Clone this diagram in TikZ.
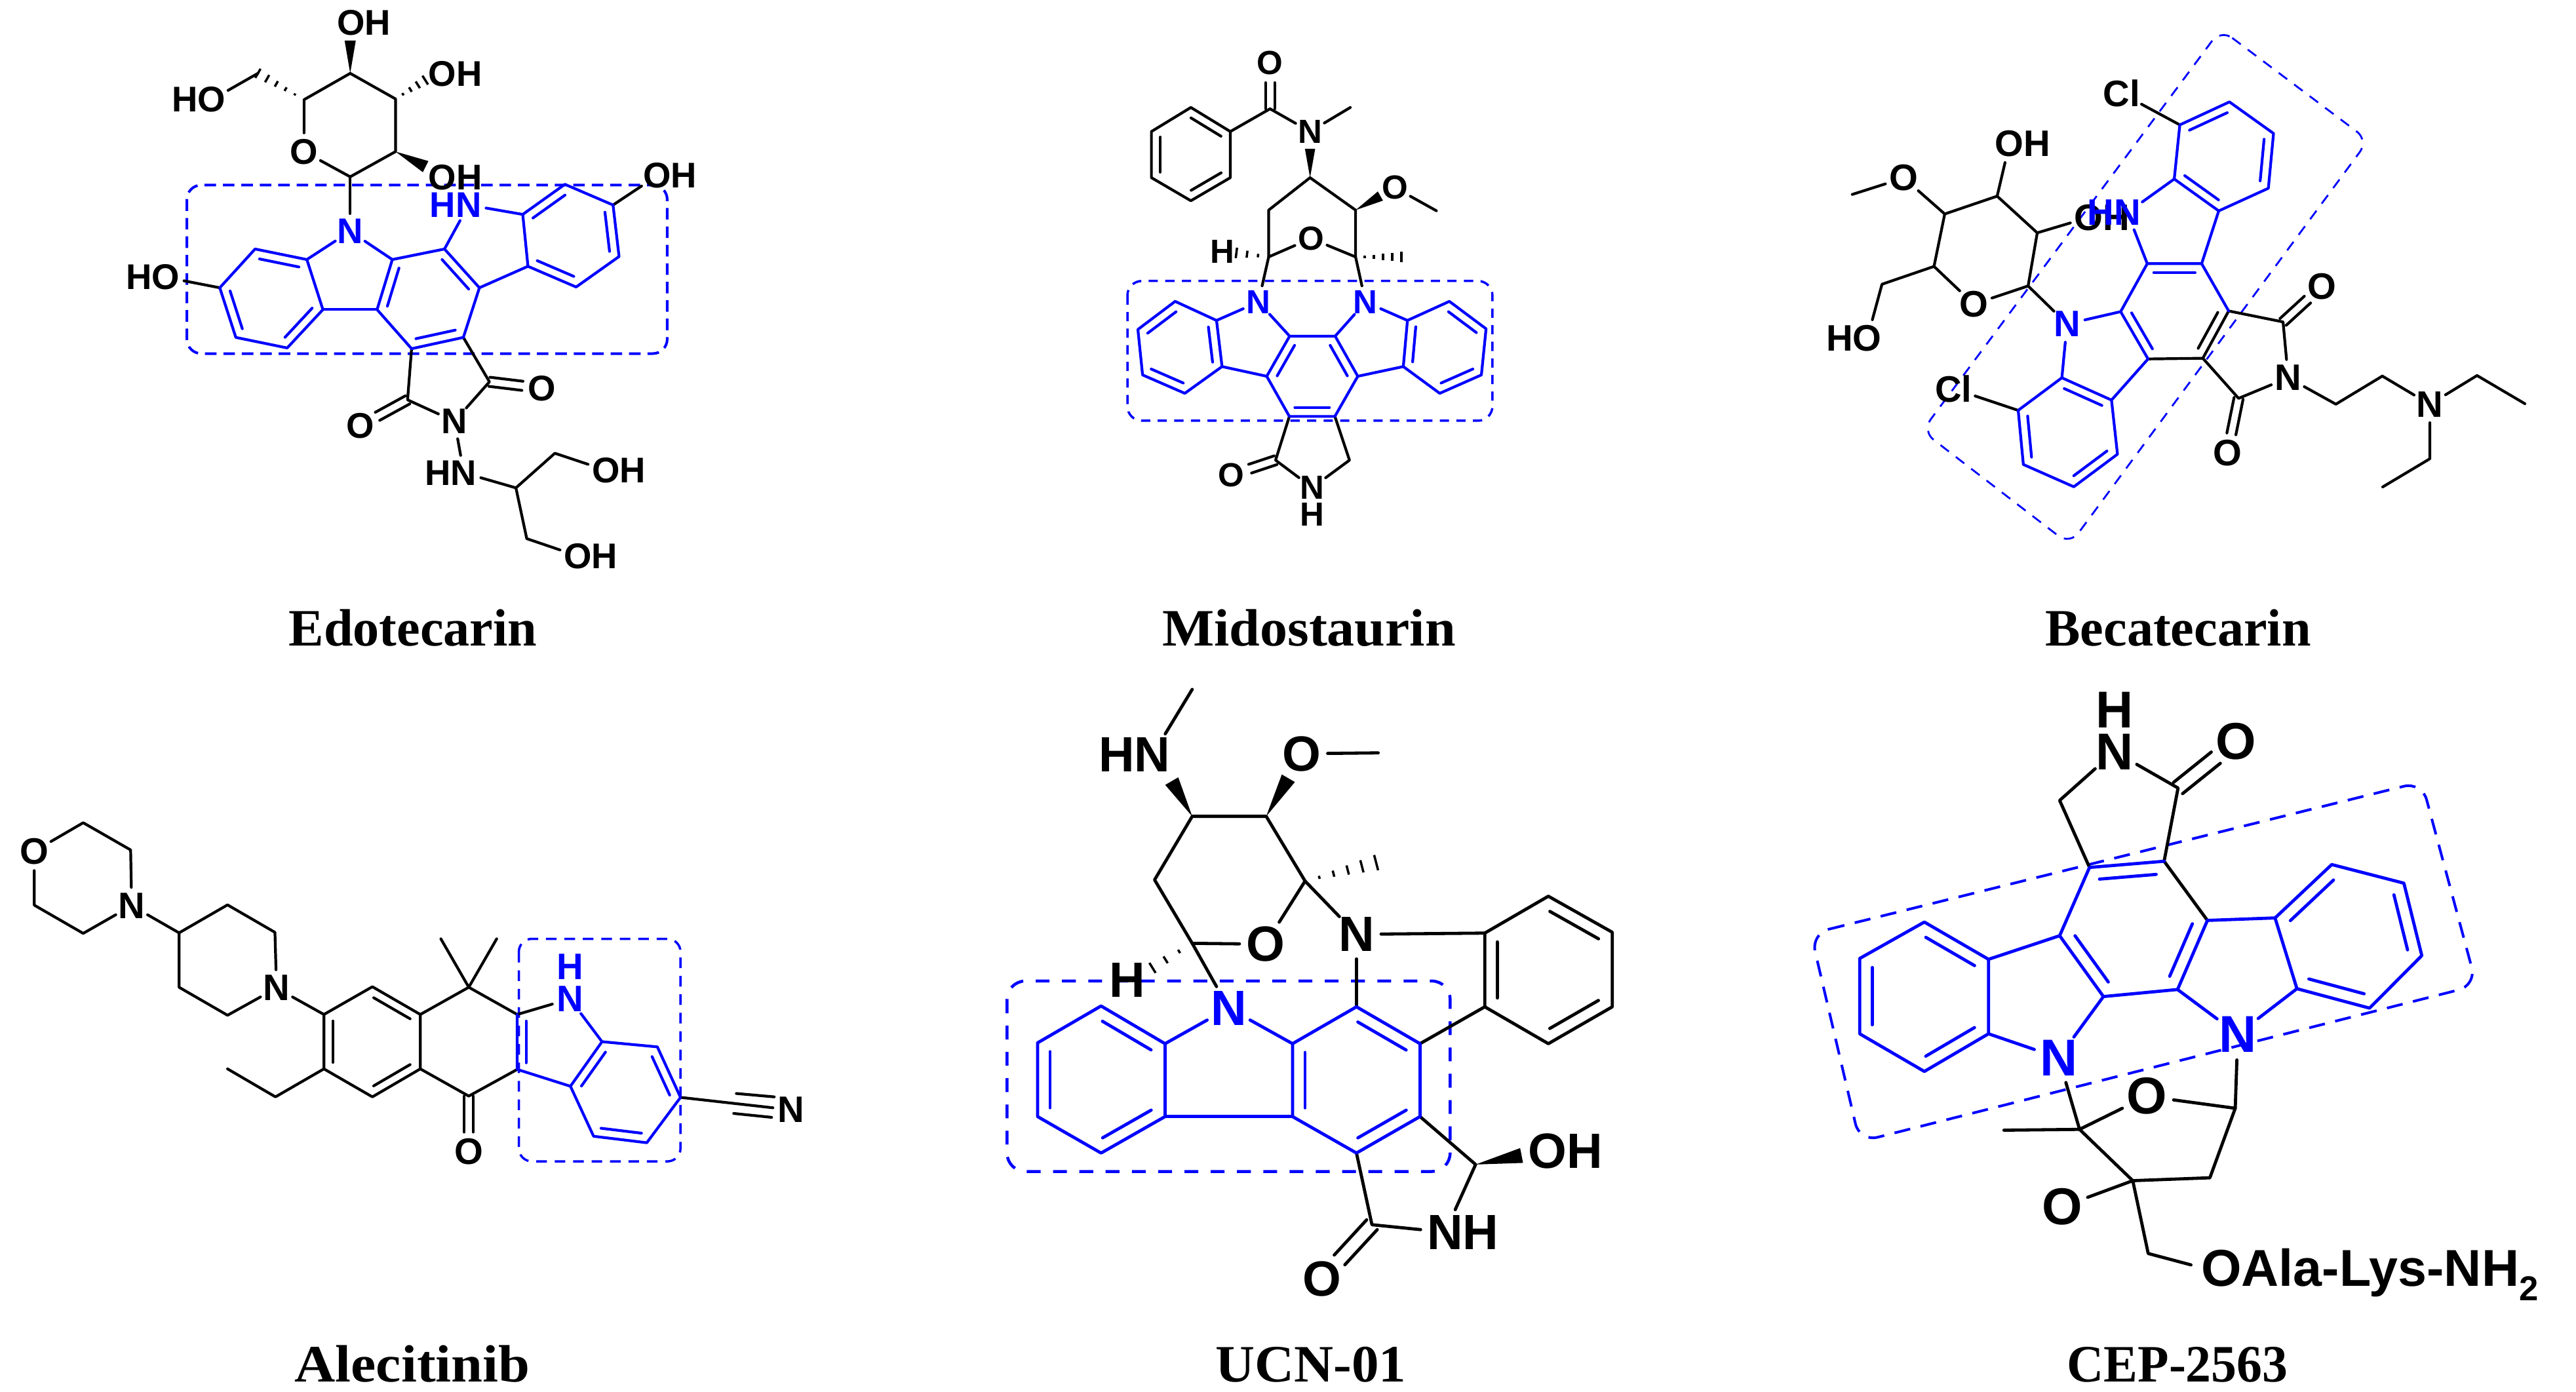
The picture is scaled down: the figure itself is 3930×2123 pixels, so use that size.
\documentclass[tikz,border=0pt]{standalone}
\usepackage{fontspec}
\usepackage{graphicx}
\setmainfont{Liberation Serif}
\setsansfont{Liberation Sans}
\usetikzlibrary{calc}
\definecolor{molblue}{RGB}{0,0,255}
\newcommand\afs{15.5}
\newcommand\dgap{.135cm}
\newcommand\cgap{.07cm}
\newcommand\oshort{.3cm}
\newcommand\lw{.042cm}
\tikzset{
  bk/.style={draw=black,line width=\lw,line cap=round,line join=round},
  bb/.style={draw=molblue,line width=\lw,line cap=round,line join=round},
  atom/.style={circle,inner sep=0pt,outer sep=0pt,text=black,font=\bfseries\sffamily\fontsize{\afs}{\afs}\selectfont},
  atomb/.style={atom,text=molblue},
  capt/.style={anchor=base,inner sep=0pt,font=\rmfamily\bfseries\fontsize{22.8}{24}\selectfont},
  mol/.style n args={4}{shift={(#1,#2)},x=#3/1568*0.01cm,y=-#4/1568*0.01cm},
  dashbox/.style={draw=molblue,line cap=butt},
}
\newcommand\atoms[1]{\foreach \n/\x/\y in {#1}{\coordinate (\n) at (\x,\y);}}
% inner line of a ring double bond, on the left of the direction a->b
\newcommand\dbl[3][bb]{\draw[#1] ($(#2)!.12!(#3)!\dgap!90:(#3)$) -- ($(#2)!.88!(#3)!\dgap!-90:(#2)$);}
% symmetric double bond from atom a to hetero atom b
\newcommand\cdbl[2]{\draw[bk,shorten >=\oshort] ($(#1)!\cgap!90:(#2)$) -- ($(#2)!\cgap!-90:(#1)$);
  \draw[bk,shorten >=\oshort] ($(#1)!\cgap!-90:(#2)$) -- ($(#2)!\cgap!90:(#1)$);}
\newcommand\wedgeb[3]{\fill[black] (#1) -- ($(#2)!#3!90:(#1)$) -- ($(#2)!#3!-90:(#1)$) -- cycle;}
\newcommand\hashb[4][.2,.4,.6,.8,1]{\foreach \t in {#1}{\pgfmathsetmacro\hw{\t*#4}
  \draw[bk,line width=.035cm,line cap=butt] ($(#2)!\t!(#3)!\hw*0.01cm!90:(#2)$) -- ($(#2)!\t!(#3)!\hw*0.01cm!-90:(#2)$);}}
\begin{document}
\begin{tikzpicture}[x=.01cm,y=-.01cm]
\fill[white] (0,0) rectangle (3930,2123);
\useasboundingbox (0,0) rectangle (3930,2123);
% ================= Edotecarin
\begin{scope}[mol={170}{0}{960}{900}]
\draw[dashbox,line width=.04cm,dash pattern=on 5pt off 3pt,rounded corners=.22cm] (188,492) rectangle (1385,940);
\atoms{s1/595/470,s2/708/403,s3/708/263,s4/595/195,s5/480/265,ch/365/195,w4/595/108,w2/783/443,h3/782/213,
a1/358/662,a2/487/690,a3/527/823,a4/438/925,a5/310/897,a6/270/765,
b1/700/690,c1/830/662,c2/917/765,c3/877/897,c4/748/927,b2/662/823,
d1/1025/570,d2/1130/490,d3/1250/545,d4/1265/682,d5/1158/763,d6/1038/708,
e1/738/1063,e2/942/1015,f1/1008/1297,f2/1105/1205,f3/1035/1432}
\node[atom] (Os) at (480,403) {O};
\node[atomb] (Na) at (595,615) {N};
\node[atomb] (Nb) at (890,545) {\llap{H}N};
\node[atom] (O4) at (597,60) {O\rlap{H}};
\node[atom] (O3) at (825,197) {O\rlap{H}};
\node[atom] (O2) at (825,472) {O\rlap{H}};
\node[atom] (O5) at (250,265) {\llap{H}O};
\node[atom] (Oa) at (135,737) {\llap{H}O};
\node[atom] (Ob) at (1360,467) {O\rlap{H}};
\node[atom] (Nc) at (855,1120) {N};
\node[atom] (Nd) at (878,1257) {\llap{H}N};
\node[atom] (Oc) at (620,1132) {O};
\node[atom] (Od) at (1073,1032) {O};
\node[atom] (Oe) at (1232,1250) {O\rlap{H}};
\node[atom] (Of) at (1162,1478) {O\rlap{H}};
\draw[bk] (Os)--(s1)--(s2)--(s3)--(s4)--(s5)--(Os);
\draw[bk] (s1)--(Na);
\wedgeb{s4}{w4}{.085cm}
\wedgeb{s2}{w2}{.095cm}
\hashb[.25,.5,.75,1]{s3}{h3}{8}
\hashb{s5}{ch}{8}
\draw[bk] (ch)--(O5);
\draw[bk] (a6)--(Oa);
\draw[bk] (d3)--(Ob);
\draw[bk] (c4)--(e1)--(Nc)--(e2)--(c3);
\cdbl{e1}{Oc}
\cdbl{e2}{Od}
\draw[bk] (Nc)--(Nd)--(f1)--(f2)--(Oe);
\draw[bk] (f1)--(f3)--(Of);
\draw[bb] (a1)--(a2)--(a3)--(a4)--(a5)--(a6)--cycle;
\draw[bb] (a2)--(Na)--(b1);
\draw[bb] (b1)--(c1)--(c2)--(c3)--(c4)--(b2)--cycle;
\draw[bb] (a3)--(b2);
\draw[bb] (c1)--(Nb)--(d1);
\draw[bb] (d1)--(d2)--(d3)--(d4)--(d5)--(d6)--cycle;
\draw[bb] (c2)--(d6);
\dbl{a2}{a1}\dbl{a6}{a5}\dbl{a4}{a3}
\dbl{b1}{b2}\dbl{c4}{c3}\dbl{c2}{c1}
\dbl{d2}{d1}\dbl{d4}{d3}\dbl{d6}{d5}
\end{scope}
% ================= Midostaurin
\begin{scope}[mol={1680}{40}{660}{800}]
\renewcommand\afs{14.5}
\draw[dashbox,line width=.035cm,dash pattern=on 4pt off 3.2pt,rounded corners=.22cm] (95,762) rectangle (1418,1180);
\atoms{p1/468/315,p2/325/243,p3/182/315,p4/182/453,p5/325/522,p6/468/453,q/612/247,me/903/243,
r/757/453,s/607/550,t/607/690,u/922/690,v/922/550,wn/757/367,wo/1012/508,ome/1215/552,ht/490/678,hu/1088/690,
l1/418/880,l2/268/823,l3/133/907,l4/150/1043,l5/303/1098,l6/438/1018,
m1/683/927,m2/848/927,m3/600/1047,m4/682/1167,m5/847/1167,m6/930/1047,
r1/1110/880,r2/1262/823,r3/1395/905,r4/1378/1043,r5/1227/1098,r6/1095/1018,
k1/632/1298,k2/900/1298}
\node[atom] (Oq) at (612,110) {O};
\node[atom] (Nq) at (757,315) {N};
\node[atom] (Or) at (760,635) {O};
\node[atom] (Ov) at (1065,483) {O};
\node[atom] (Hh) at (440,675) {H};
\node[atomb] (Na) at (570,825) {N};
\node[atomb] (Nb) at (958,825) {N};
\node[atom] (Nc) at (765,1380) {N};
\node[atom] (Hc) at (765,1460) {H};
\node[atom] (Ok) at (472,1342) {O};
\draw[bk] (p1)--(p2)--(p3)--(p4)--(p5)--(p6)--cycle;
\dbl[bk]{p1}{p2}\dbl[bk]{p3}{p4}\dbl[bk]{p5}{p6}
\draw[bk] (p1)--(q)--(Nq)--(me);
\cdbl{q}{Oq}
\wedgeb{r}{wn}{.078cm}
\draw[bk] (r)--(s)--(t)--(Or)--(u)--(v)--(r);
\wedgeb{v}{wo}{.08cm}
\draw[bk] (Ov)--(ome);
\hashb[.33,.67,1]{t}{ht}{8}
\hashb{u}{hu}{8}
\draw[bk] (t)--(Na);
\draw[bk] (u)--(Nb);
\draw[bk] (m4)--(k1)--(Nc)--(k2)--(m5);
\cdbl{k1}{Ok}
\draw[bb] (l1)--(l2)--(l3)--(l4)--(l5)--(l6)--cycle;
\draw[bb] (r1)--(r2)--(r3)--(r4)--(r5)--(r6)--cycle;
\draw[bb] (l1)--(Na)--(m1)--(m2)--(Nb)--(r1);
\draw[bb] (m1)--(m3)--(m4)--(m5)--(m6)--(m2);
\draw[bb] (l6)--(m3);
\draw[bb] (m6)--(r6);
\dbl{l2}{l3}\dbl{l4}{l5}\dbl{l6}{l1}
\dbl{m1}{m3}\dbl{m4}{m5}\dbl{m6}{m2}
\dbl{r1}{r6}\dbl{r5}{r4}\dbl{r3}{r2}
\end{scope}
% ================= Becatecarin
\begin{scope}[mol={2770}{30}{950}{820}]
\renewcommand\afs{16}
\atoms{p1/1020/28,p2/1392/352,p3/640/1532,p4/268/1200}
\draw[dashbox,line width=.028cm,dash pattern=on 4.6pt off 3.8pt,rounded corners=.22cm] (p1)--(p2)--(p3)--(p4)--cycle;
\atoms{s1/457/515,s2/558/622,s3/535/777,s5/298/720,s6/325/567,s7/167/772,me/92/510,
t1/917/307,t2/1042/240,t3/1153/332,t4/1140/492,t5/1015/558,t6/903/465,
c1/835/712,c2/972/712,c3/1040/850,c4/975/988,c5/837/990,c6/768/852,
b1/620/1045,b2/510/1140,b3/523/1298,b4/650/1363,b5/760/1268,b6/745/1110,
d1/1177/882,d2/1065/1105,e1/1310/1122,e2/1427/1040}
\node[atom] (Os) at (398,830) {O};
\node[atom] (O1) at (488,362) {O\rlap{H}};
\node[atom] (O6) at (222,462) {O};
\node[atom] (O2) at (688,577) {O\rlap{H}};
\node[atom] (O7) at (130,930) {\llap{H}O};
\node[atom] (Cla) at (770,215) {Cl};
\node[atom] (Clb) at (347,1077) {Cl};
\node[atomb] (Na) at (785,563) {\llap{H}N};
\node[atomb] (Nb) at (633,888) {N};
\node[atom] (Nc) at (1190,1045) {N};
\node[atom] (Od) at (1275,778) {O};
\node[atom] (Oe) at (1037,1265) {O};
\draw[bk] (Os)--(s3)--(s2)--(s1)--(s6)--(s5)--(Os);
\draw[bk] (s1)--(O1);
\draw[bk] (s6)--(O6)--(me);
\draw[bk] (s2)--(O2);
\draw[bk] (s5)--(s7)--(O7);
\draw[bk] (s3)--(Nb);
\draw[bk] (Cla)--(t1);
\draw[bk] (Clb)--(b2);
\draw[bk] (c3)--(c4)--(c5);
\dbl[bk]{c4}{c3}
\draw[bk] (c3)--(d1)--(Nc)--(d2)--(c4);
\cdbl{d1}{Od}
\cdbl{d2}{Oe}
\draw[bk] (Nc)--(e1)--(e2);
\draw[bb] (t1)--(t2)--(t3)--(t4)--(t5)--(t6)--cycle;
\draw[bb] (t6)--(Na)--(c1)--(c2)--(t5);
\draw[bb] (c2)--(c3);
\draw[bb] (c1)--(c6)--(c5)--(b6)--(b5)--(b4)--(b3)--(b2)--(b1)--(b6);
\draw[bb] (c6)--(Nb)--(b1);
\dbl{t2}{t1}\dbl{t6}{t5}\dbl{t4}{t3}
\dbl{c2}{c1}\dbl{c6}{c5}
\dbl{b2}{b3}\dbl{b4}{b5}\dbl{b6}{b1}
\end{scope}
\begin{scope}
\renewcommand\afs{16}
\atoms{g1/3779/573,g2/3852/616,g3/3707/700,g4/3635/743}
\node[atom] (Ne) at (3707,617) {N};
\draw[bk] (e2)--(Ne)--(g1)--(g2);
\draw[bk] (Ne)--(g3)--(g4);
\end{scope}
% ================= Alecitinib
\begin{scope}[mol={0}{1200}{1260}{620}]
\renewcommand\afs{16}
\draw[dashbox,line width=.035cm,dash pattern=on 4.6pt off 3.4pt,rounded corners=.2cm] (985,588) rectangle (1292,1447);
\atoms{g1/158/140,g2/248/245,g3/158/567,g4/65/458,h1/340/565,h2/432/457,h3/522/563,h4/432/883,h5/340/775,
i1/615/880,i2/707/773,i3/798/880,i4/798/1090,i5/707/1198,i6/615/1090,et1/523/1198,et2/432/1090,
j1/890/775,m1/837/588,m2/943/588,j2/890/1195,k1/982/880,k2/982/1092,
n1/1143/985,n2/1248/1005,n3/1292/1200,n4/1228/1375,n5/1127/1350,n6/1083/1157,
ta/1398/1185,tb/1470/1198,tc/1393/1262,td/1465/1277}
\node[atom] (Om) at (65,250) {O};
\node[atom] (Nm) at (250,460) {N};
\node[atom] (Np) at (525,778) {N};
\node[atom] (Oj) at (890,1410) {O};
\node[atomb] (Nk) at (1082,820) {N};
\node[atomb] (Hk) at (1082,695) {H};
\node[atom] (Nt) at (1502,1248) {N};
\draw[bk] (Om)--(g1)--(g2)--(Nm)--(g3)--(g4)--(Om);
\draw[bk] (Nm)--(h1)--(h2)--(h3)--(Np)--(h4)--(h5)--(h1);
\draw[bk] (Np)--(i1);
\draw[bk] (i1)--(i2)--(i3)--(i4)--(i5)--(i6)--cycle;
\dbl[bk]{i3}{i2}\dbl[bk]{i1}{i6}\dbl[bk]{i5}{i4}
\draw[bk] (i6)--(et1)--(et2);
\draw[bk] (i3)--(j1)--(k1);
\draw[bk] (m1)--(j1)--(m2);
\draw[bk] (i4)--(j2)--(k2);
\cdbl{j2}{Oj}
\draw[bk] (k1)--(Nk);
\draw[bk] (n3)--(Nt);
\draw[bk] (ta)--(tb);
\draw[bk] (tc)--(td);
\draw[bb] (k1)--(k2)--(n6)--(n5)--(n4)--(n3)--(n2)--(n1)--(n6);
\draw[bb] (Nk)--(n1);
\dbl{k1}{k2}
\dbl{n1}{n6}\dbl{n5}{n4}\dbl{n3}{n2}
\end{scope}
% ================= UCN-01
\begin{scope}[mol={1500}{1030}{1000}{980}]
\renewcommand\afs{21.5}
\renewcommand\dgap{.19cm}
\renewcommand\cgap{.11cm}
\renewcommand\oshort{.4cm}
\renewcommand\lw{.048cm}
\draw[dashbox,line width=.045cm,dash pattern=on 6pt off 5.4pt,rounded corners=.28cm] (57,747) rectangle (1117,1212);
\atoms{me1/500/35,me2/945/190,a1/500/345,a2/677/345,a3/770/503,a4/500/655,a5/410/500,
wa/451/259,wb/730/252,ha/940/458,hb/405/715,
r1/1200/630,r2/1352/540,r3/1505/628,r4/1505/810,r5/1352/900,r6/1200/810,
u1/893/810,u2/1045/900,u3/1045/1078,u4/893/1167,u5/740/1078,u6/740/900,
l1/435/900,l2/282/808,l3/130/898,l4/130/1078,l5/282/1167,l6/435/1078,
v1/1178/1195,v2/930/1342,wc/1288/1173}
\node[atom] (Na) at (405,195) {\llap{H}N};
\node[atom] (Ob) at (762,192) {O};
\node[atom] (Os) at (675,657) {O};
\node[atom] (Nr) at (893,633) {N};
\node[atom] (Hh) at (345,745) {H};
\node[atomb] (Nl) at (587,813) {N};
\node[atom] (Nv) at (1105,1360) {N\rlap{H}};
\node[atom] (Ov) at (1350,1163) {O\rlap{H}};
\node[atom] (Ow) at (810,1475) {O};
\draw[bk] (me1)--(Na);
\draw[bk] (Ob)--(me2);
\wedgeb{a1}{wa}{.115cm}
\wedgeb{a2}{wb}{.115cm}
\draw[bk] (a1)--(a2)--(a3)--(Os)--(a4)--(a5)--(a1);
\hashb{a3}{ha}{12}
\hashb[.33,.67,1]{a4}{hb}{9}
\draw[bk] (a3)--(Nr)--(r1);
\draw[bk] (Nr)--(u1);
\draw[bk] (a4)--(Nl);
\draw[bk] (r1)--(r2)--(r3)--(r4)--(r5)--(r6)--cycle;
\dbl[bk]{r1}{r6}\dbl[bk]{r5}{r4}\dbl[bk]{r3}{r2}
\draw[bk] (r6)--(u2);
\draw[bk] (u3)--(v1)--(Nv)--(v2)--(u4);
\wedgeb{v1}{wc}{.115cm}
\cdbl{v2}{Ow}
\draw[bb] (u1)--(u2)--(u3)--(u4)--(u5)--(u6)--cycle;
\draw[bb] (l1)--(l2)--(l3)--(l4)--(l5)--(l6)--cycle;
\draw[bb] (l1)--(Nl)--(u6);
\draw[bb] (l6)--(u5);
\dbl{u2}{u1}\dbl{u6}{u5}\dbl{u4}{u3}
\dbl{l1}{l2}\dbl{l3}{l4}\dbl{l5}{l6}
\end{scope}
% ================= CEP-2563
\begin{scope}[mol={2740}{1030}{1190}{990}]
\renewcommand\afs{22.5}
\renewcommand\dgap{.19cm}
\renewcommand\cgap{.11cm}
\renewcommand\oshort{.4cm}
\renewcommand\lw{.048cm}
\atoms{p1/30/625,p2/1258/258,p3/1368/750,p4/128/1128}
\draw[dashbox,line width=.04cm,dash pattern=on 7pt off 4.6pt,rounded corners=.28cm] (p1)--(p2)--(p3)--(p4)--cycle;
\atoms{w1/530/303,w2/768/273,
x1/590/465,x2/740/450,x3/827/593,x4/767/760,x5/618/777,x6/530/630,
y1/387/687,y2/258/597,y3/128/685,y4/128/867,y5/258/958,y6/387/867,
z1/963/587,z2/1077/458,z3/1222/503,z4/1258/678,z5/1153/805,z6/1007/758,
sa/570/1098,sb/883/1047,sc/832/1215,sd/677/1222,me/418/1100,se/708/1398}
\node[atom] (Nw) at (640,185) {N};
\node[atom] (Hw) at (640,85) {H};
\node[atom] (Ow) at (885,160) {O};
\node[atomb] (Na) at (528,925) {N};
\node[atomb] (Nb) at (888,868) {N};
\node[atom] (Os) at (705,1018) {O};
\node[atom] (Od) at (535,1285) {O};
\node[atom] (Oe) at (855,1445) {O\rlap{Ala-Lys-NH\smash{\raisebox{-.28em}{\fontsize{15}{15}\selectfont 2}}}};
\draw[bk] (x1)--(w1)--(Nw)--(w2)--(x2);
\cdbl{w2}{Ow}
\draw[bk] (x2)--(x3);
\draw[bk] (Na)--(sa)--(Os)--(sb)--(sc)--(sd)--(sa);
\draw[bk] (Nb)--(sb);
\draw[bk] (sa)--(me);
\draw[bk] (sd)--(Od);
\draw[bk] (sd)--(se)--(Oe);
\draw[bb] (x3)--(x4)--(x5)--(x6)--(x1)--(x2);
\draw[bb] (y1)--(y2)--(y3)--(y4)--(y5)--(y6)--cycle;
\draw[bb] (z1)--(z2)--(z3)--(z4)--(z5)--(z6)--cycle;
\draw[bb] (x6)--(y1);
\draw[bb] (x3)--(z1);
\draw[bb] (y6)--(Na)--(x5);
\draw[bb] (x4)--(Nb)--(z6);
\dbl{x2}{x1}\dbl{x6}{x5}\dbl{x4}{x3}
\dbl{y1}{y2}\dbl{y3}{y4}\dbl{y5}{y6}
\dbl{z2}{z1}\dbl{z6}{z5}\dbl{z4}{z3}
\end{scope}
% ================= names
\node[capt] (capa) at (630,985) {Edotecarin};
\node[capt] (capb) at (1997,985) {\scalebox{1.047}[1]{Midostaurin}};
\node[capt] (capc) at (3323,985) {Becatecarin};
\node[capt] (capd) at (629,2108) {\scalebox{1.075}[1]{Alecitinib}};
\node[capt] (cape) at (2000,2108) {\scalebox{1.036}[1]{UCN-01}};
\node[capt] (capf) at (3322,2108) {\scalebox{.97}[1]{CEP-2563}};
\end{tikzpicture}
\end{document}
